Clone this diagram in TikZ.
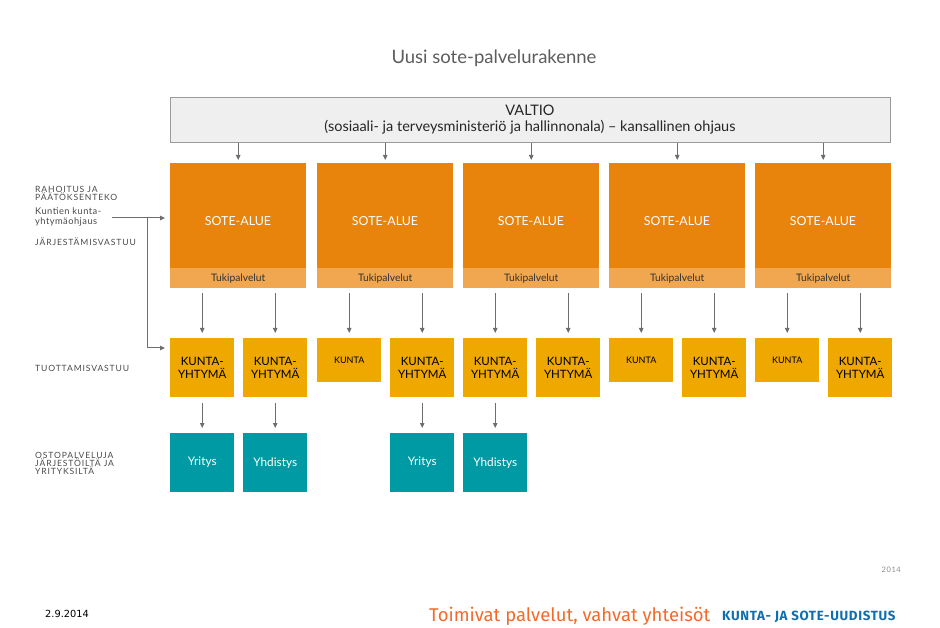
\documentclass[tikz,border=0pt]{standalone}
\usepackage{fontspec}
\setmainfont{Lato}
\newfontfamily\footfont{Fira Sans}
\newfontfamily\datefont{DejaVu Sans}
\usetikzlibrary{arrows.meta}
\definecolor{soteor}{HTML}{E8830C}
\definecolor{tukior}{HTML}{F0A74F}
\definecolor{kuntay}{HTML}{EEA800}
\definecolor{teal}{HTML}{009AA5}
\definecolor{valfill}{HTML}{EFEFEF}
\definecolor{valdraw}{HTML}{9A9A9A}
\definecolor{arrgray}{HTML}{6E6E6E}
\definecolor{txtgray}{HTML}{4A4A4A}
\definecolor{footor}{HTML}{F26A2A}
\definecolor{footbl}{HTML}{0F6FAE}
\begin{document}
\begin{tikzpicture}[x=1pt,y=-1pt,
  fs/.style 2 args={font=\fontsize{#1}{#2}\selectfont},
  fsl/.style n args={3}{font=\fontsize{#1}{#2}\selectfont\addfontfeature{LetterSpace=#3}},
  blk/.style={draw=none,inner sep=0pt,anchor=north west,align=center},
  sotebox/.style={blk,fill=soteor,minimum width=136pt,minimum height=105pt},
  tukibox/.style={blk,fill=tukior,minimum width=136pt,minimum height=20pt,text=black!80,fs={10.3}{12}},
  kybox/.style={blk,fill=kuntay,minimum width=64pt,minimum height=59pt,text=black,fs={11.5}{13.5}},
  kbox/.style={blk,fill=kuntay,minimum width=64pt,minimum height=44pt,text=black,fs={9}{10}},
  tealbox/.style={blk,fill=teal,minimum width=64pt,minimum height=59pt,text=white,fs={11.8}{13}},
  arr/.style={draw=arrgray,line width=1pt,-{Triangle[length=5pt,width=4.5pt]}},
  lbl/.style={anchor=west,inner sep=0pt,text=txtgray,align=left,fsl={8.6}{10}{10}},
  lbls/.style={anchor=west,inner sep=0pt,text=txtgray,align=left,fsl={9.3}{10.5}{5}}
]
\useasboundingbox (0,0) rectangle (940,628);

% title
\node[text=txtgray!90,fs={18.5}{21},inner sep=0pt] (title) at (494,58) {Uusi sote-palvelurakenne};

% VALTIO
\node[draw=valdraw,fill=valfill,line width=0.8pt,minimum width=720pt,minimum height=45pt,inner sep=0pt,anchor=north west] (v) at (170,97) {};
\node[fs={14.5}{16},inner sep=0pt,align=center,text=black!85] (vt) at (530,120) {VALTIO\\(sosiaali- ja terveysministeriö ja hallinnonala) – kansallinen ohjaus};

% SOTE columns
\foreach \x [count=\i] in {170,317,463,609,755} {
  \node[sotebox] (s\i) at (\x,163) {};
  \node[text=white,fs={12.4}{14},inner sep=0pt] (st\i) at (\x+68,221) {SOTE-ALUE};
  \node[tukibox] (t\i) at (\x,268) {Tukipalvelut};
  \draw[arr] (v.south -| s\i.north) -- ([yshift=3pt]s\i.north);
}

% lower row
\node[kybox] (l1) at (170,338) {KUNTA-\\YHTYMÄ};
\node[kybox] (r1) at (243,338) {KUNTA-\\YHTYMÄ};
\node[kbox]  (l2) at (317,338) {KUNTA};
\node[kybox] (r2) at (390,338) {KUNTA-\\YHTYMÄ};
\node[kybox] (l3) at (463,338) {KUNTA-\\YHTYMÄ};
\node[kybox] (r3) at (536,338) {KUNTA-\\YHTYMÄ};
\node[kbox]  (l4) at (609,338) {KUNTA};
\node[kybox] (r4) at (682,338) {KUNTA-\\YHTYMÄ};
\node[kbox]  (l5) at (755,338) {KUNTA};
\node[kybox] (r5) at (828,338) {KUNTA-\\YHTYMÄ};

\foreach \i in {1,...,5} {
  \draw[arr] ([yshift=-5pt]t\i.south -| l\i.north) -- ([yshift=5pt]l\i.north);
  \draw[arr] ([yshift=-5pt]t\i.south -| r\i.north) -- ([yshift=5pt]r\i.north);
}

% purchased services
\node[tealbox] (p1) at (170,433) {Yritys};
\node[tealbox] (p2) at (243,433) {Yhdistys};
\node[tealbox] (p3) at (390,433) {Yritys};
\node[tealbox] (p4) at (463,433) {Yhdistys};
\draw[arr] ([yshift=-6pt]l1.south) -- ([yshift=5pt]p1.north);
\draw[arr] ([yshift=-6pt]r1.south) -- ([yshift=5pt]p2.north);
\draw[arr] ([yshift=-6pt]r2.south) -- ([yshift=5pt]p3.north);
\draw[arr] ([yshift=-6pt]l3.south) -- ([yshift=5pt]p4.north);

% left control line
\coordinate (k) at (112,218);
\coordinate (kv) at (147,218);
\coordinate (kb) at (147,348);
\draw[arr] (k) -- ([xshift=-5pt]k -| s1.west);
\draw[arr] (kv) -- (kb) -- ([xshift=-5pt]kb -| l1.west);

% left labels
\node[lbl] (la) at (35,193.5) {RAHOITUS JA\\[-2pt]PÄÄTÖKSENTEKO};
\node[lbls] (lb) at (35,217) {Kuntien kunta-\\yhtymäohjaus};
\node[lbl] (lc) at (35,242) {JÄRJESTÄMISVASTUU};
\node[lbl] (ld) at (35,368) {TUOTTAMISVASTUU};
\node[lbl] (le) at (35,463) {OSTOPALVELUJA\\[-2pt]JÄRJESTÖILTÄ JA\\[-2pt]YRITYKSILTÄ};

% footer
\node[anchor=east,inner sep=0pt,text=black!45,fsl={7.5}{8}{8}] (yr) at (901,570) {2014};
\node[anchor=west,inner sep=0pt] (dt) at (45,614) {\datefont\fontsize{9.8}{11}\selectfont 2.9.2014};
\node[anchor=west,inner sep=0pt,text=footor] (ft) at (429,616) {\footfont\fontsize{18.5}{21}\selectfont Toimivat palvelut, vahvat yhteisöt};
\node[anchor=west,inner sep=0pt,text=footbl] (fb) at (722,617) {\footfont\bfseries\fontsize{13.3}{15}\selectfont\addfontfeature{LetterSpace=5}KUNTA- JA SOTE-UUDISTUS};
\end{tikzpicture}
\end{document}
